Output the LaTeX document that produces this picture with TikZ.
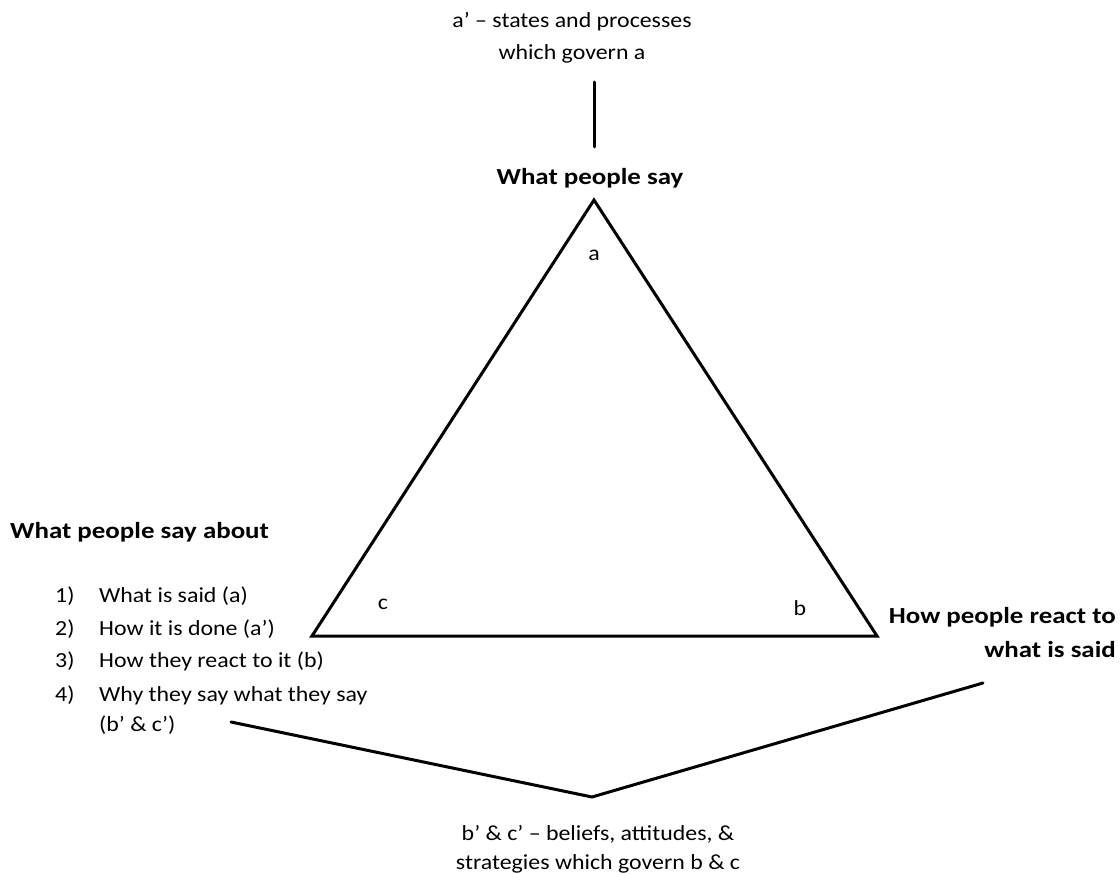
\documentclass[tikz,border=0pt]{standalone}
\usepackage{fontspec}
\setmainfont{Carlito}[FakeStretch=1.11]
\newfontfamily\headfont{Carlito}[FakeStretch=1.17]
\usetikzlibrary{positioning}
\tikzset{
  txt/.style={inner sep=0pt,font=\fontsize{21.5}{30}\selectfont},
  head/.style={inner sep=0pt,font=\headfont\fontsize{23}{30}\selectfont\bfseries},
  edge/.style={line width=3pt,line cap=round,line join=miter}
}
\begin{document}
\begin{tikzpicture}[x=1pt,y=-1pt]
\useasboundingbox (0,0) rectangle (1120,874);
% triangle
\coordinate (apex) at (594,200);
\coordinate (lft) at (312,636);
\coordinate (rgt) at (877,636);
\draw[edge] (apex) -- (rgt) -- (lft) -- cycle;
\node[txt,anchor=base] (a) at (594,261) {a};
\node[txt,anchor=base] (c) at (383,609) {c};
\node[txt,anchor=base] (b) at (800,615) {b};
% top
\node[txt,anchor=base] (anote1) at (572,28) {a’ – states and processes};
\node[txt,anchor=base] (anote2) at (572,60) {which govern a};
\coordinate (tick1) at (594,82);
\coordinate (tick2) at (594,147);
\draw[edge] (tick1) -- (tick2);
\node[head,anchor=base] (say) at (590,185) {What people say};
% left
\node[head,anchor=base west] (about) at (10,539) {What people say about};
\foreach \n/\y/\t in {1/602/What is said (a),2/635/How it is done (a’),3/667/How they react to it (b),4/701/Why they say what they say}
  {\node[txt,anchor=base west] (num\n) at (55,\y) {\n)};
   \node[txt,anchor=base west] (item\n) at (99,\y) {\t};}
\node[txt,anchor=base west] (item5) at (99,731) {(b’ \& c’)};
% right
\node[head,anchor=base east] (react1) at (1116,623) {How people react to};
\node[head,anchor=base east] (react2) at (1116,657) {what is said};
% bottom
\coordinate (vl) at (231,722);
\coordinate (vm) at (592,797);
\coordinate (vr) at (983,683);
\draw[edge] (vl) -- (vm) -- (vr);
\node[txt,anchor=base] (bnote1) at (598,840) {b’ \& c’ – beliefs, attitudes, \&};
\node[txt,anchor=base] (bnote2) at (598,869) {strategies which govern b \& c};
\end{tikzpicture}
\end{document}
